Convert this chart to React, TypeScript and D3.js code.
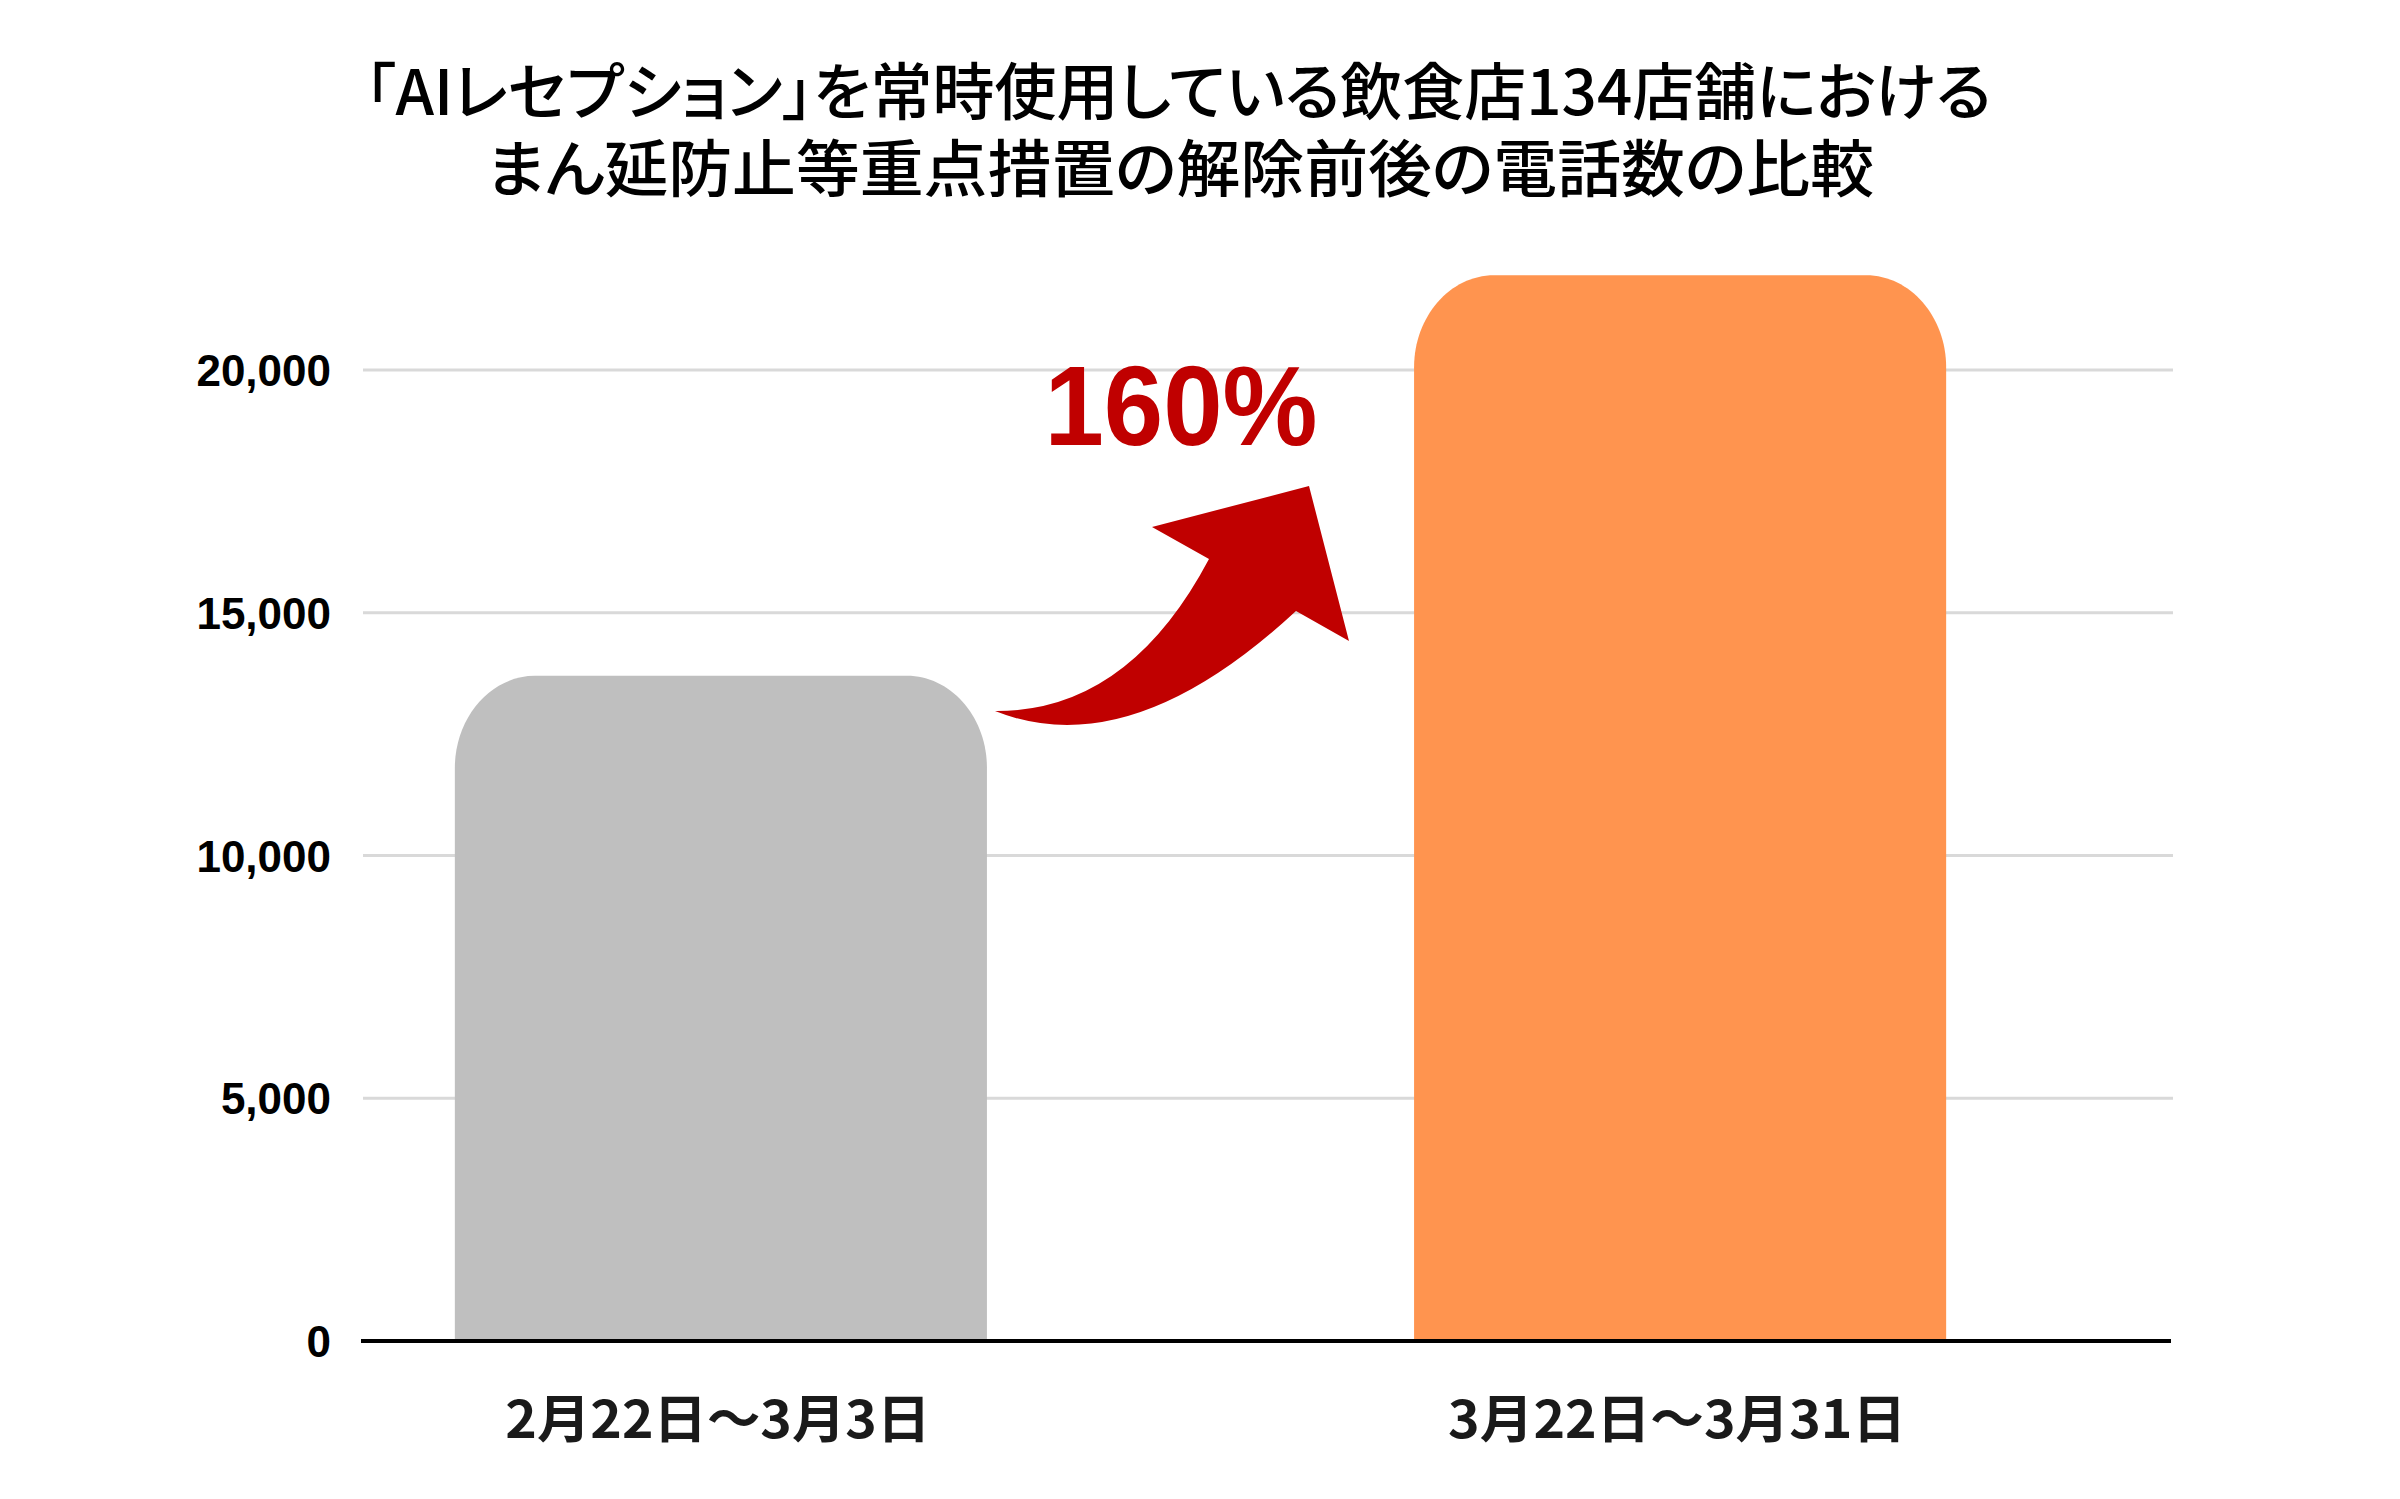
import React from "react";
import * as d3 from "d3";

const categories = ["2月22日〜3月3日", "3月22日〜3月31日"];
const values = [13700, 21950];
const barColors = ["#bfbfbf", "#ff944f"];
const yTicks = [0, 5000, 10000, 15000, 20000];
const titleLines = [
  "「AIレセプション」を常時使用している飲食店134店舗における",
  "まん延防止等重点措置の解除前後の電話数の比較",
];
const growthLabel = "160%";

const W = 2400;
const H = 1499;

export default function App() {
  const y = d3.scaleLinear().domain([0, 20000]).range([1341, 370]);
  const x = d3.scaleBand<string>().domain(categories).range([263, 2138]).paddingInner(0.4453).paddingOuter(0.2);
  const bw = x.bandwidth();
  const rx = 80;
  const ry = 92;

  const barPath = (x0: number, top: number, w: number, bottom: number) => {
    const p = d3.path();
    p.moveTo(x0, bottom);
    p.lineTo(x0, top + ry);
    p.bezierCurveTo(x0, top + ry * 0.45, x0 + rx * 0.45, top, x0 + rx, top);
    p.lineTo(x0 + w - rx, top);
    p.bezierCurveTo(x0 + w - rx * 0.45, top, x0 + w, top + ry * 0.45, x0 + w, top + ry);
    p.lineTo(x0 + w, bottom);
    p.closePath();
    return p.toString();
  };

  // arrow shape anchored between the bars
  const a = d3.path();
  a.moveTo(995, 711);
  a.quadraticCurveTo(1128, 712, 1209, 559);
  a.lineTo(1152, 527);
  a.lineTo(1309, 486);
  a.lineTo(1349, 641);
  a.lineTo(1296, 611);
  a.quadraticCurveTo(1130, 765, 995, 711);
  a.closePath();

  return (
    <svg width={W} height={H} style={{ display: "block", position: "absolute", left: 0, top: 0, background: "#fff" }}>
      <rect width={W} height={H} fill="#fff" />
      <text
        textAnchor="middle"
        fontFamily="'Noto Sans CJK JP', sans-serif"
        fontSize={62}
        fontWeight={500}
        fill="#000"
        style={{ fontFeatureSettings: "'palt'" }}
      >
        <tspan x={1178} y={115}>{titleLines[0]}</tspan>
        <tspan x={1180} y={192} textLength={1388} lengthAdjust="spacingAndGlyphs">
          {titleLines[1]}
        </tspan>
      </text>
      {yTicks.filter((t) => t > 0).map((t) => (
        <line key={t} x1={363} x2={2173} y1={y(t)} y2={y(t)} stroke="#d9d9d9" strokeWidth={3} />
      ))}
      {yTicks.map((t) => (
        <text
          key={"l" + t}
          x={331}
          y={y(t) + 16}
          textAnchor="end"
          fontFamily="'Liberation Sans', Arial, sans-serif"
          fontWeight="bold"
          fontSize={44}
          fill="#000"
        >
          {d3.format(",")(t)}
        </text>
      ))}
      {categories.map((c, i) => (
        <path key={c} d={barPath(x(c)!, y(values[i]), bw, y(0))} fill={barColors[i]} />
      ))}
      <line x1={361} x2={2171} y1={y(0)} y2={y(0)} stroke="#000" strokeWidth={4} />
      {categories.map((c, i) => (
        <text
          key={"x" + c}
          x={x(c)! + bw / 2 - 3}
          y={1438}
          textAnchor="middle"
          fontFamily="'Noto Sans CJK JP', sans-serif"
          fontWeight="bold"
          fontSize={52}
          textLength={i === 0 ? 425 : 458}
          lengthAdjust="spacingAndGlyphs"
          fill="#1a1a1a"
        >
          {c}
        </text>
      ))}
      <path d={a.toString()} fill="#c00000" />
      <text
        x={1181}
        y={445}
        textAnchor="middle"
        fontFamily="'Liberation Sans', Arial, sans-serif"
        fontWeight="bold"
        fontSize={114}
        textLength={273}
        lengthAdjust="spacingAndGlyphs"
        fill="#c00000"
      >
        {growthLabel}
      </text>
    </svg>
  );
}
